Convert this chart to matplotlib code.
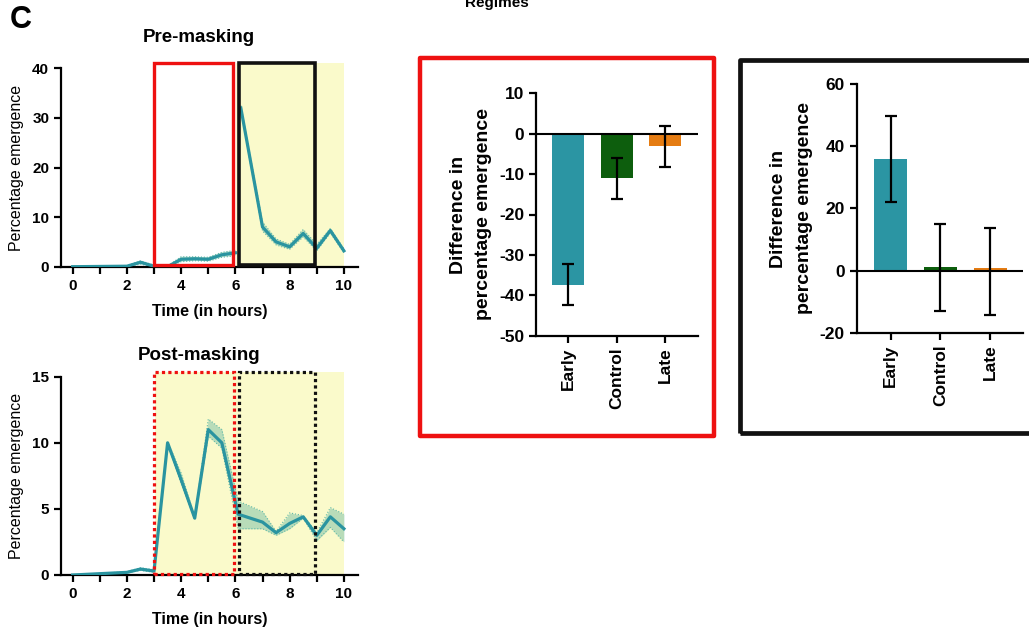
import matplotlib
matplotlib.use('Agg')
import matplotlib.pyplot as plt
from matplotlib.patches import Rectangle
from matplotlib.ticker import MultipleLocator

plt.rcParams['font.family'] = ['Liberation Sans', 'DejaVu Sans']
plt.rcParams['axes.unicode_minus'] = False

nan = float('nan')

# ---------------- data ----------------
pre_time = [0, 2, 2.5, 3, 3.5, 4, 4.5, 5, 5.5, 6, 6.1, 6.2, 7, 7.5, 8, 8.5, 9, 9.5, 10]
pre_mean = [0, 0.1, 0.9, 0.1, 0, 1.5, 1.6, 1.5, 2.4, 2.8, nan, 32, 8, 5, 4, 6.7, 3.7, 7.3, 3.2]
pre_low = [0, 0, 0.5, 0, 0, 1.0, 1.2, 1.1, 1.9, 2.2, nan, 31.5, 7.2, 4.4, 3.5, 6.0, 3.2, 6.8, 2.8]
pre_high = [0, 0.2, 1.2, 0.3, 0.2, 2.0, 2.0, 1.9, 2.9, 3.3, nan, 32.5, 9.0, 5.6, 4.5, 7.5, 4.5, 7.7, 3.6]

post_time = [0, 2, 2.5, 3, 3.5, 4, 4.5, 5, 5.5, 6.1, 7, 7.5, 8, 8.5, 9, 9.5, 10]
post_mean = [0, 0.2, 0.45, 0.3, 10, 7.2, 4.3, 11, 10, 4.6, 4.0, 3.2, 3.9, 4.4, 3.0, 4.4, 3.5]
post_low = [0, 0.15, 0.35, 0.2, 9.9, 6.9, 4.2, 10.5, 9.6, 3.5, 3.5, 3.0, 3.5, 4.3, 2.6, 3.6, 2.5]
post_high = [0, 0.25, 0.55, 0.4, 10.1, 7.7, 4.4, 11.8, 11.0, 5.6, 4.8, 3.3, 4.7, 4.5, 3.2, 5.1, 4.6]

regimes = ['Early', 'Control', 'Late']
early_diff = [-37.4, -11.0, -3.0]
early_err_low = [5.1, 5.1, 5.2]
early_err_high = [5.1, 5.1, 5.0]
late_diff = [36.0, 1.0, 0.8]
late_err_low = [13.8, 13.9, 15.1]
late_err_high = [13.9, 14.0, 12.8]

bar_colors = ['#2b95a3', '#0d5e0d', '#e57c12']
line_color = '#2a94a0'
band_color = '#8cc9ad'
yellow = '#fafacb'

W, H = 1029, 633
fig = plt.figure(figsize=(W / 100, H / 100), dpi=100)


def ax_px(l, t, r, b):
    return fig.add_axes([l / W, 1 - b / H, (r - l) / W, (b - t) / H])


def style_line_axes(ax, ymax, ystep):
    ax.set_xlim(-0.43, 10.52)
    ax.set_ylim(0, ymax)
    for s in ['top', 'right']:
        ax.spines[s].set_visible(False)
    for s in ['left', 'bottom']:
        ax.spines[s].set_linewidth(1.6)
    ax.xaxis.set_major_locator(MultipleLocator(2))
    ax.xaxis.set_minor_locator(MultipleLocator(1))
    ax.yaxis.set_major_locator(MultipleLocator(ystep))
    ax.tick_params(axis='both', which='both', width=1.6, length=5, labelsize=11)
    for lab in ax.get_xticklabels() + ax.get_yticklabels():
        lab.set_fontweight('bold')
    ax.set_xlabel('Time (in hours)', fontsize=11.5, fontweight='bold', labelpad=8)
    ax.set_ylabel('Percentage emergence', fontsize=11.5, labelpad=6)
    ax.set_facecolor('none')


def draw_series(ax, t, m, lo, hi):
    ax.fill_between(t, lo, hi, color=band_color, alpha=0.6, lw=0, zorder=2)
    ax.plot(t, lo, color='#5fb8a8', lw=0.8, ls=':', zorder=2)
    ax.plot(t, hi, color='#5fb8a8', lw=0.8, ls=':', zorder=2)
    ax.plot(t, m, color=line_color, lw=2.3, zorder=3)


# ---------- Pre-masking ----------
ax1 = ax_px(61, 68.3, 358, 266.7)
ax1.add_patch(Rectangle((6.04, 0), 10 - 6.04, 41.1, facecolor=yellow, edgecolor='none',
                        clip_on=False, zorder=0))
draw_series(ax1, pre_time, pre_mean, pre_low, pre_high)
ax1.add_patch(Rectangle((3.0, 0.3), 5.9 - 3.0, 41.1 - 0.3, facecolor='none', edgecolor='#ee1111',
                        lw=2.4, clip_on=False, zorder=4))
ax1.add_patch(Rectangle((6.15, 0.3), 8.93 - 6.15, 41.1 - 0.3, facecolor='none', edgecolor='#111111',
                        lw=2.6, clip_on=False, zorder=4))
style_line_axes(ax1, 40, 10)
fig.text(199 / W, 1 - 38 / H, 'Pre-masking', ha='center', va='center', fontsize=13.5, fontweight='bold')

# ---------- Post-masking ----------
ax2 = ax_px(61, 376.7, 358, 575)
ax2.add_patch(Rectangle((3.03, 0), 10 - 3.03, 15.35, facecolor=yellow, edgecolor='none',
                        clip_on=False, zorder=0))
draw_series(ax2, post_time, post_mean, post_low, post_high)
ax2.add_patch(Rectangle((3.0, 0.05), 5.93 - 3.0, 15.3, facecolor='none', edgecolor='#ee1111',
                        lw=2.3, ls=(0, (1, 1)), clip_on=False, zorder=4))
ax2.add_patch(Rectangle((6.14, 0.05), 8.93 - 6.14, 15.3, facecolor='none', edgecolor='#111111',
                        lw=2.3, ls=(0, (1, 1)), clip_on=False, zorder=4))
style_line_axes(ax2, 15, 5)
fig.text(199 / W, 1 - 355 / H, 'Post-masking', ha='center', va='center', fontsize=13.5, fontweight='bold')


# ---------- Bar charts ----------
def bar_axes(ax, vals, elo, ehi, ylim, ystep, xlim):
    x = list(range(len(regimes)))
    ax.bar(x, vals, width=0.66, color=bar_colors, zorder=2)
    ax.errorbar(x, vals, yerr=[elo, ehi], fmt='none', ecolor='black', elinewidth=1.6,
                capsize=4, capthick=1.6, zorder=3)
    ax.axhline(0, color='black', lw=1.5, zorder=2.5)
    ax.set_xlim(*xlim)
    ax.set_ylim(*ylim)
    ax.yaxis.set_major_locator(MultipleLocator(ystep))
    ax.set_xticks(x)
    ax.set_xticklabels(regimes, rotation=90, fontsize=13, fontweight='bold')
    for s in ['top', 'right']:
        ax.spines[s].set_visible(False)
    for s in ['left', 'bottom']:
        ax.spines[s].set_linewidth(1.6)
    ax.tick_params(axis='both', width=1.6, length=5, labelsize=12.5)
    for lab in ax.get_yticklabels():
        lab.set_fontweight('bold')
    ax.set_ylabel('Difference in\npercentage emergence', fontsize=14, fontweight='bold',
                  labelpad=5, linespacing=1.65)


ax3 = ax_px(536, 93.3, 698, 335.7)
bar_axes(ax3, early_diff, early_err_low, early_err_high, (-50, 10), 10, (-0.66, 2.68))

ax4 = ax_px(856.7, 84.3, 1023, 332.7)
bar_axes(ax4, late_diff, late_err_low, late_err_high, (-20, 60), 20, (-0.68, 2.66))

# frames around bar charts
fig.patches.append(Rectangle((420 / W, 1 - 436 / H), (714 - 420) / W, (436 - 58) / H,
                             transform=fig.transFigure, facecolor='none', edgecolor='#ee1111',
                             lw=3.2, joinstyle='round', zorder=5))
fig.patches.append(Rectangle((740 / W, 1 - 433 / H), (1040 - 740) / W, (433 - 60) / H,
                             transform=fig.transFigure, facecolor='none', edgecolor='#111111',
                             lw=3.4, joinstyle='round', zorder=5))

fig.text(21 / W, 1 - 20 / H, 'C', ha='center', va='center', fontsize=22, fontweight='bold')
fig.text(497 / W, 1 - 7 / H, 'Regimes', ha='center', va='baseline', fontsize=11, fontweight='bold')

fig.savefig('out.png', dpi=100)
